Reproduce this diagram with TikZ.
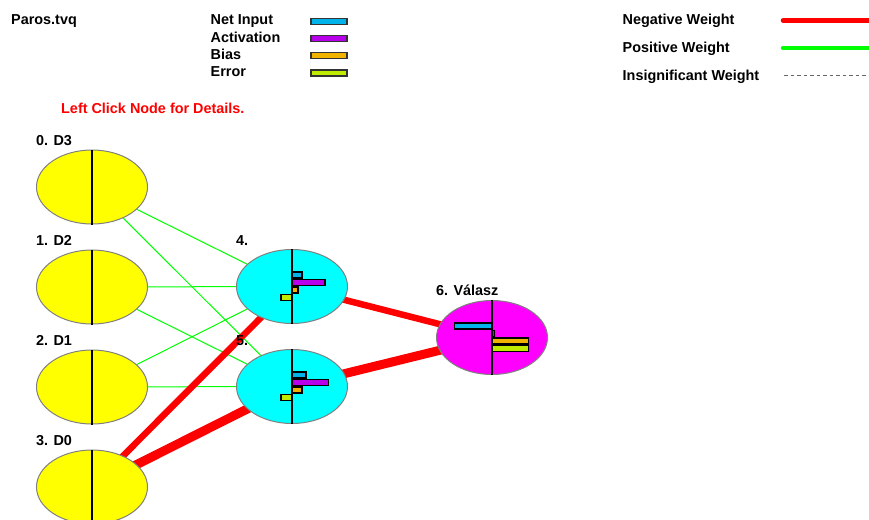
\documentclass[tikz,border=0pt]{standalone}
\usepackage{fontspec}
\setmainfont{Liberation Sans}
\usetikzlibrary{shapes.geometric,backgrounds}

\definecolor{netc}{RGB}{0,180,235}
\definecolor{actc}{RGB}{185,0,235}
\definecolor{biasc}{RGB}{240,180,0}
\definecolor{errc}{RGB}{190,235,0}
\definecolor{posw}{RGB}{0,255,0}
\definecolor{negw}{RGB}{255,0,0}
\definecolor{rimc}{RGB}{128,128,128}
\definecolor{inpc}{RGB}{255,255,0}
\definecolor{hidc}{RGB}{0,255,255}
\definecolor{outc}{RGB}{255,0,255}

% bars of one unit: node, net input, activation, bias, error (widths)
\newcommand\unitbars[5]{%
  \draw[barbox, fill=netc]  (#1.center) ++(0,-14.5) rectangle ++(#2,6);
  \draw[barbox, fill=actc]  (#1.center) ++(0,-7)    rectangle ++(#3,6);
  \draw[barbox, fill=biasc] (#1.center) ++(0,0.5)   rectangle ++(#4,6);
  \draw[barbox, fill=errc]  (#1.center) ++(0,8)     rectangle ++(#5,6);
}

\begin{document}
\begin{tikzpicture}[x=1pt,y=-1pt,
  font=\fontsize{14.4}{16}\selectfont\bfseries,
  unit/.style={ellipse, draw=rimc, line width=1pt, minimum width=111pt,
    minimum height=74pt, inner sep=0pt},
  lbl/.style={anchor=base west, inner sep=0pt},
  divider/.style={draw=black, line width=1.3pt},
  barbox/.style={draw=black, line width=1.1pt},
  legbar/.style={draw=black!80, line width=1.1pt, minimum width=36pt,
    minimum height=6pt, inner sep=0pt},
  poswire/.style={draw=posw, line width=1pt},
  negwire/.style={draw=negw},
]
\clip (0,0) rectangle (869,519);

% ---- units ----
\node[unit, fill=inpc] (n0) at (92,187) {};
\node[unit, fill=inpc] (n1) at (92,287) {};
\node[unit, fill=inpc] (n2) at (92,387) {};
\node[unit, fill=inpc] (n3) at (92,487) {};
\node[unit, fill=hidc] (n4) at (292,286.5) {};
\node[unit, fill=hidc] (n5) at (292,386.5) {};
\node[unit, fill=outc] (n6) at (492,337.5) {};

\foreach \u in {n0,n1,n2,n3,n4,n5,n6}
  \draw[divider] (\u.north) -- (\u.south);

% ---- unit bars ----
\unitbars{n4}{10}{33}{6}{-11}
\unitbars{n5}{14}{36.5}{10}{-11}
\unitbars{n6}{-37.5}{2.5}{36.5}{36.5}

% ---- weights (behind the units) ----
\begin{scope}[on background layer]
  \fill[white] (0,0) rectangle (869,519);
  \draw[poswire] (n0.center) -- (n4.center);
  \draw[poswire] (n0.center) -- (n5.center);
  \draw[poswire] (n1.center) -- (n4.center);
  \draw[poswire] (n1.center) -- (n5.center);
  \draw[poswire] (n2.center) -- (n4.center);
  \draw[poswire] (n2.center) -- (n5.center);
  \draw[negwire, line width=6.5pt] (n3.center) -- (n4.center);
  \draw[negwire, line width=9pt]   (n3.center) -- (n5.center);
  \draw[negwire, line width=6.5pt] (n4.center) -- (n6.center);
  \draw[negwire, line width=9pt]   (n5.center) -- (n6.center);
\end{scope}

% ---- unit labels ----
\node[lbl] (t0) at (36,145) {0. D3};
\node[lbl] (t1) at (36,245) {1. D2};
\node[lbl] (t2) at (36,345) {2. D1};
\node[lbl] (t3) at (36,445) {3. D0};
\node[lbl] (t4) at (236,245) {4.};
\node[lbl] (t5) at (236,345) {5.};
\node[lbl] (t6) at (436,295) {6. Válasz};

% ---- header ----
\node[lbl] (file) at (11,25) {Paros.tvq};
\node[lbl] (kNet)  at (210.5,25)   {Net Input};
\node[lbl] (kAct)  at (210.5,42.3) {Activation};
\node[lbl] (kBias) at (210.5,59.3) {Bias};
\node[lbl] (kErr)  at (210.5,76.7) {Error};
\node[legbar, fill=netc]  (bNet)  at (329,21.3) {};
\node[legbar, fill=actc]  (bAct)  at (329,38.5) {};
\node[legbar, fill=biasc] (bBias) at (329,55.5) {};
\node[legbar, fill=errc]  (bErr)  at (329,73)   {};

\node[lbl, text=negw] (hint) at (61,113.3) {Left Click Node for Details.};

\node[lbl] (wNeg) at (622.5,25)   {Negative Weight};
\node[lbl] (wPos) at (622.5,52.3) {Positive Weight};
\node[lbl] (wIns) at (622.5,80)   {Insignificant Weight};
\coordinate (negA) at (783,20.5);
\coordinate (negB) at (875,20.5);
\coordinate (posA) at (783,48);
\coordinate (posB) at (875,48);
\coordinate (insA) at (784,75);
\coordinate (insB) at (875,75);
\draw[negw, line width=4.5pt, line cap=round] (negA) -- (negB);
\draw[posw, line width=4.5pt, line cap=round] (posA) -- (posB);
\draw[gray!80!black, line width=0.9pt, dash pattern=on 3.5pt off 3pt] (insA) -- (insB);
\end{tikzpicture}
\end{document}
